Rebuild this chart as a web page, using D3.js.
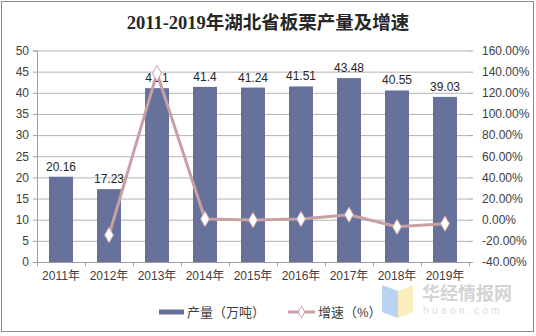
<!DOCTYPE html>
<html><head><meta charset="utf-8">
<script src="https://cdn.jsdelivr.net/npm/d3@7"></script>
<style>body{margin:0;background:#fff}svg{display:block}</style>
</head><body>
<svg id="c" width="536" height="336"></svg>
<script>
const categories = ["2011年","2012年","2013年","2014年","2015年","2016年","2017年","2018年","2019年"];
const production = [20.16, 17.23, 41.1, 41.4, 41.24, 41.51, 43.48, 40.55, 39.03];
const growth = [null, -14.53, 138.54, 0.73, -0.39, 0.65, 4.75, -6.74, -3.75];
const leftTicks = [0,5,10,15,20,25,30,35,40,45,50];
const rightTicks = [-40,-20,0,20,40,60,80,100,120,140,160];

const svg = d3.select("#c");
const font = "'Liberation Sans', Arial, 'Noto Sans CJK SC', sans-serif";
const M = {l:37, r:469, t:50.5, b:262};

svg.append("rect").attr("x",1.5).attr("y",1.5).attr("width",532).attr("height",330)
  .attr("fill","#fff").attr("stroke","#8c8c8c").attr("stroke-width",1);

svg.append("text").attr("x",268).attr("y",29).attr("text-anchor","middle")
  .attr("font-family","'Liberation Serif','Noto Sans CJK SC',serif").attr("font-weight","bold")
  .attr("font-size",18.5).attr("fill","#262626").text("2011-2019年湖北省板栗产量及增速");

const x = d3.scaleBand().domain(categories).range([M.l, M.r]).paddingInner(0.5).paddingOuter(0.25);
const xb = d3.scaleBand().domain(categories).range([M.l, M.r]);
const y = d3.scaleLinear().domain([0,50]).range([M.b, M.t]);
const y2 = d3.scaleLinear().domain([-40,160]).range([M.b, M.t]);

// gridlines
svg.append("g").selectAll("line").data(leftTicks.slice(1)).join("line")
  .attr("x1",M.l).attr("x2",M.r).attr("y1",d=>y(d)+0.5).attr("y2",d=>y(d)+0.5)
  .attr("stroke","#b3b3b3").attr("stroke-width",1);

// left axis
const la = svg.append("g").attr("transform",`translate(${M.l},0)`)
  .call(d3.axisLeft(y).tickValues(leftTicks).tickSize(4).tickPadding(4));
la.select(".domain").attr("stroke","#a0a0a0");
la.selectAll(".tick line").attr("stroke","#a0a0a0");
la.selectAll("text").attr("font-family",font).attr("font-size",12).attr("fill","#404040");

// right axis
const ra = svg.append("g").attr("transform",`translate(${M.r},0)`)
  .call(d3.axisRight(y2).tickValues(rightTicks).tickSize(4).tickPadding(9).tickFormat(d=>d.toFixed(2)+"%"));
ra.select(".domain").remove();
ra.selectAll(".tick line").attr("stroke","#a0a0a0");
ra.selectAll("text").attr("font-family",font).attr("font-size",12).attr("fill","#404040");

// bars
svg.append("g").selectAll("rect").data(production).join("rect")
  .attr("x",(d,i)=>x(categories[i])).attr("width",x.bandwidth())
  .attr("y",d=>y(d)).attr("height",d=>M.b-y(d)).attr("fill","#66729b");

// bar labels
svg.append("g").selectAll("text").data(production).join("text")
  .attr("x",(d,i)=>x(categories[i])+x.bandwidth()/2).attr("y",d=>y(d)-6)
  .attr("text-anchor","middle").attr("font-family",font).attr("font-size",12).attr("fill","#262626")
  .text(d=>d);

// x axis
const xa = svg.append("g").attr("transform",`translate(0,${M.b})`)
  .call(d3.axisBottom(xb).tickSize(0).tickPadding(9));
xa.select(".domain").attr("stroke","#a0a0a0");
xa.selectAll("text").attr("font-family",font).attr("font-size",12).attr("fill","#404040");
svg.append("g").selectAll("line").data(d3.range(categories.length+1)).join("line")
  .attr("x1",i=>M.l+i*xb.step()+0.5).attr("x2",i=>M.l+i*xb.step()+0.5)
  .attr("y1",M.b).attr("y2",M.b+4).attr("stroke","#a0a0a0");

// line
const pts = growth.map((g,i)=>({g,c:categories[i]})).filter(d=>d.g!==null);
svg.append("path").datum(pts)
  .attr("d",d3.line().x(d=>xb(d.c)+xb.bandwidth()/2).y(d=>y2(d.g)))
  .attr("fill","none").attr("stroke","#c8a0a4").attr("stroke-width",3);
const diamond = d3.symbol().type(d3.symbolDiamond).size(70);
svg.append("g").selectAll("path").data(pts).join("path")
  .attr("d",diamond).attr("transform",d=>`translate(${xb(d.c)+xb.bandwidth()/2},${y2(d.g)})`)
  .attr("fill","#fff").attr("stroke","#c8a0a4").attr("stroke-width",1);

// legend
svg.append("rect").attr("x",159).attr("y",309.5).attr("width",25).attr("height",5).attr("fill","#66729b");
svg.append("text").attr("x",187).attr("y",317).attr("font-family",font).attr("font-size",13).attr("fill","#404040").text("产量（万吨）");
svg.append("line").attr("x1",288).attr("x2",315).attr("y1",312).attr("y2",312).attr("stroke","#c8a0a4").attr("stroke-width",3);
svg.append("path").attr("d",d3.symbol().type(d3.symbolDiamond).size(40)).attr("transform","translate(301.5,312)")
  .attr("fill","#fff").attr("stroke","#c8a0a4");
svg.append("text").attr("x",318).attr("y",317).attr("font-family",font).attr("font-size",13).attr("fill","#404040").text("增速（%）");

// watermark
const wm = svg.append("g").attr("opacity",0.55);
wm.append("path").attr("d","M382,285 L398,291 L398,318 L382,312 Z").attr("fill","#7fb0ea");
wm.append("path").attr("d","M398,291 L413,285 L413,312 L398,318 Z").attr("fill","#f7e08a");
wm.append("text").attr("x",422).attr("y",300).attr("font-family","'Noto Sans CJK SC',sans-serif").attr("font-weight","bold")
  .attr("font-size",18).attr("fill","#b0b0b0").text("华经情报网");
wm.append("text").attr("x",423).attr("y",314).attr("font-family",font).attr("font-size",10)
  .attr("letter-spacing","3.4").attr("fill","#c0c0c0").text("huaon.com");
</script>
</body></html>
